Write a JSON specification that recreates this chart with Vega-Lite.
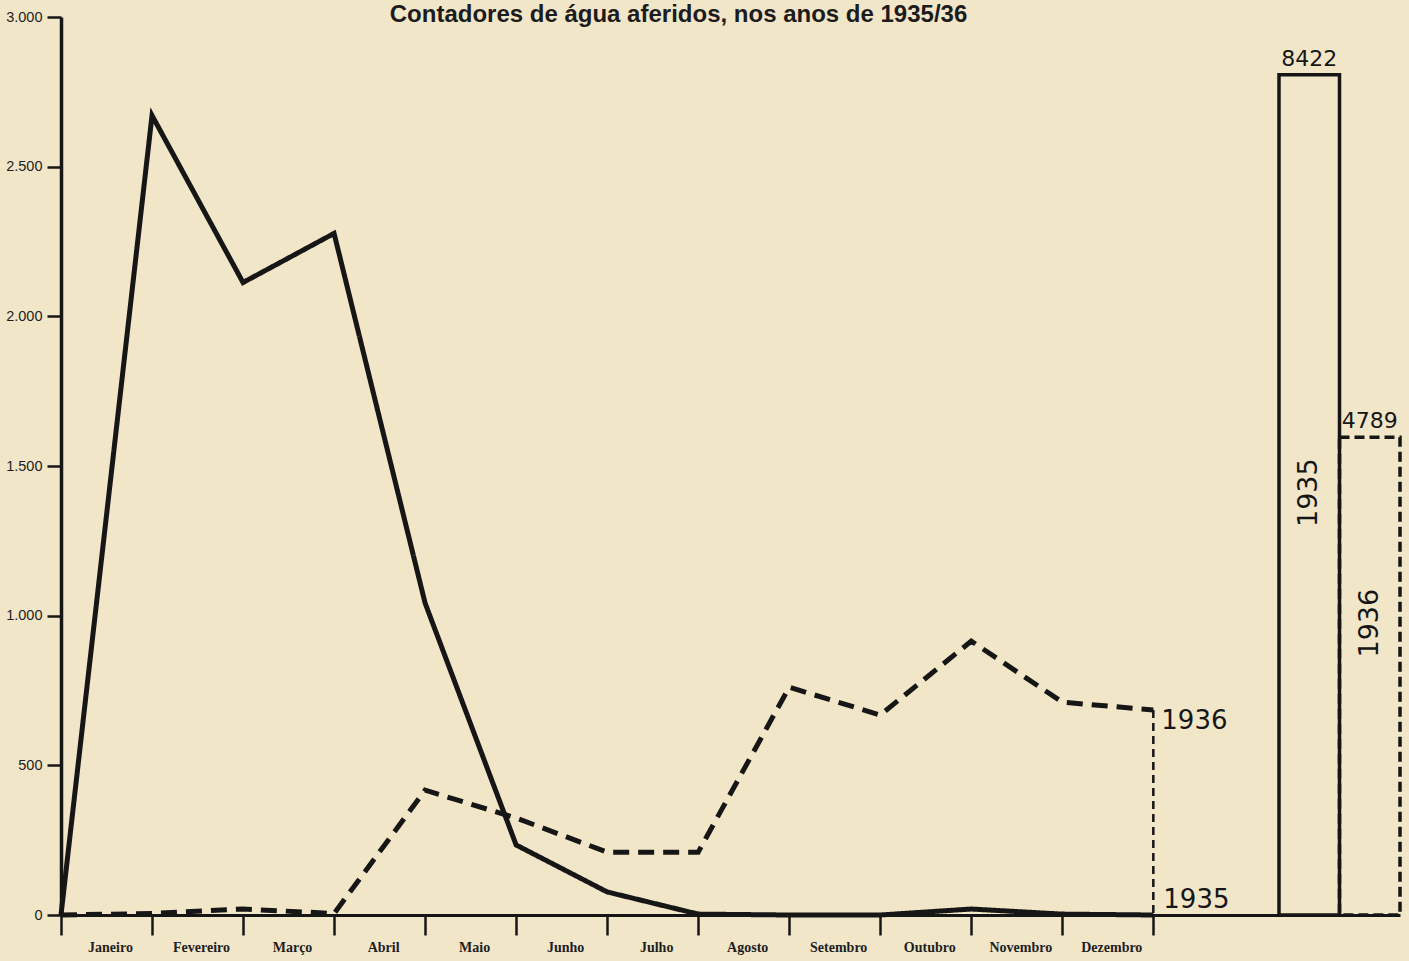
{
  "$schema": "https://vega.github.io/schema/vega-lite/v6.json",
  "width": 1339,
  "height": 898,
  "autosize": {"type": "none"},
  "padding": {"left": 61, "top": 17, "right": 9, "bottom": 46},
  "background": "#f2e6c9",
  "title": {
    "text": "Contadores de água aferidos, nos anos de 1935/36",
    "anchor": "middle",
    "font": "Liberation Sans",
    "fontSize": 24,
    "fontWeight": "bold",
    "color": "#1c1c1c",
    "baseline": "middle",
    "offset": 0,
    "dx": -52,
    "dy": 30
  },
  "config": {
    "view": {"stroke": null},
    "axis": {"grid": false, "domainColor": "#161616", "tickColor": "#161616", "labelColor": "#1e1e1e"}
  },
  "datasets": {
    "mensal": [
      {"m": 0, "mes": "início", "ano": "1935", "n": 0},
      {"m": 1, "mes": "Janeiro", "ano": "1935", "n": 2671},
      {"m": 2, "mes": "Fevereiro", "ano": "1935", "n": 2113},
      {"m": 3, "mes": "Março", "ano": "1935", "n": 2277},
      {"m": 4, "mes": "Abril", "ano": "1935", "n": 1042},
      {"m": 5, "mes": "Maio", "ano": "1935", "n": 234},
      {"m": 6, "mes": "Junho", "ano": "1935", "n": 77},
      {"m": 7, "mes": "Julho", "ano": "1935", "n": 3},
      {"m": 8, "mes": "Agosto", "ano": "1935", "n": 0},
      {"m": 9, "mes": "Setembro", "ano": "1935", "n": 0},
      {"m": 10, "mes": "Outubro", "ano": "1935", "n": 20},
      {"m": 11, "mes": "Novembro", "ano": "1935", "n": 3},
      {"m": 12, "mes": "Dezembro", "ano": "1935", "n": 0},
      {"m": 0, "mes": "início", "ano": "1936", "n": 0},
      {"m": 1, "mes": "Janeiro", "ano": "1936", "n": 5},
      {"m": 2, "mes": "Fevereiro", "ano": "1936", "n": 20},
      {"m": 3, "mes": "Março", "ano": "1936", "n": 5},
      {"m": 4, "mes": "Abril", "ano": "1936", "n": 417},
      {"m": 5, "mes": "Maio", "ano": "1936", "n": 324},
      {"m": 6, "mes": "Junho", "ano": "1936", "n": 210},
      {"m": 7, "mes": "Julho", "ano": "1936", "n": 210},
      {"m": 8, "mes": "Agosto", "ano": "1936", "n": 761},
      {"m": 9, "mes": "Setembro", "ano": "1936", "n": 668},
      {"m": 10, "mes": "Outubro", "ano": "1936", "n": 915},
      {"m": 11, "mes": "Novembro", "ano": "1936", "n": 711},
      {"m": 12, "mes": "Dezembro", "ano": "1936", "n": 685}
    ],
    "totais": [
      {"ano": "1936", "total": 4789},
      {"ano": "1935", "total": 8422}
    ]
  },
  "layer": [
    {
      "data": {"name": "mensal"},
      "encoding": {
        "x": {
          "field": "m",
          "type": "quantitative",
          "scale": {"domain": [0, 14.71], "nice": false, "zero": false},
          "axis": {
            "title": null,
            "values": [0, 1, 2, 3, 4, 5, 6, 7, 8, 9, 10, 11, 12],
            "labelExpr": "['Janeiro','Fevereiro','Março','Abril','Maio','Junho','Julho','Agosto','Setembro','Outubro','Novembro','Dezembro',''][datum.value]",
            "labelOffset": 49,
            "labelOverlap": false,
            "labelBound": false,
            "labelFlush": false,
            "labelFont": "Liberation Serif",
            "labelFontWeight": "bold",
            "labelFontSize": 14,
            "labelPadding": 5,
            "domainWidth": 3,
            "tickSize": 20,
            "tickWidth": 2.5
          }
        },
        "y": {
          "field": "n",
          "type": "quantitative",
          "scale": {"domain": [0, 3000], "nice": false},
          "axis": {
            "title": null,
            "values": [0, 500, 1000, 1500, 2000, 2500, 3000],
            "labelExpr": "replace(format(datum.value, ','), ',', '.')",
            "labelFont": "Liberation Sans",
            "labelFontSize": 14.5,
            "labelPadding": 5,
            "domainWidth": 3.5,
            "tickSize": 14,
            "tickWidth": 2.5
          }
        }
      },
      "layer": [
        {
          "mark": {"type": "line", "strokeWidth": 5, "color": "#161616", "strokeJoin": "miter"},
          "encoding": {
            "detail": {"field": "ano"},
            "strokeDash": {
              "field": "ano",
              "type": "nominal",
              "scale": {"domain": ["1935", "1936"], "range": [[1, 0], [16, 9]]},
              "legend": null
            }
          }
        },
        {
          "transform": [{"filter": "datum.ano == '1936' && datum.m == 12"}],
          "mark": {"type": "rule", "strokeWidth": 2.5, "color": "#161616", "strokeDash": [8, 5]},
          "encoding": {"y2": {"datum": 0}}
        },
        {
          "transform": [{"filter": "datum.ano == '1936' && datum.m == 12"}],
          "mark": {"type": "text", "align": "left", "baseline": "top", "dx": 8, "dy": -2, "font": "DejaVu Sans", "fontSize": 26, "color": "#161616"},
          "encoding": {"text": {"field": "ano"}}
        },
        {
          "transform": [{"filter": "datum.ano == '1935' && datum.m == 12"}],
          "mark": {"type": "text", "align": "left", "baseline": "bottom", "dx": 10, "dy": -2, "font": "DejaVu Sans", "fontSize": 26, "color": "#161616"},
          "encoding": {"text": {"field": "ano"}}
        }
      ]
    },
    {
      "data": {"name": "totais"},
      "encoding": {
        "x": {
          "field": "ano",
          "type": "nominal",
          "scale": {"domain": ["1935", "1936"], "range": [1218, 1339], "paddingInner": 0, "paddingOuter": 0},
          "axis": null
        },
        "y": {
          "field": "total",
          "type": "quantitative",
          "scale": {"domain": [0, 9000], "nice": false},
          "axis": null
        }
      },
      "layer": [
        {
          "mark": {"type": "bar", "fill": "transparent", "stroke": "#161616", "strokeWidth": 3.5},
          "encoding": {
            "strokeDash": {
              "field": "ano",
              "type": "nominal",
              "scale": {"domain": ["1935", "1936"], "range": [[1, 0], [10, 5]]},
              "legend": null
            }
          }
        },
        {
          "mark": {"type": "text", "baseline": "bottom", "dy": -4, "font": "DejaVu Sans", "fontSize": 22, "color": "#161616"},
          "encoding": {"text": {"field": "total"}}
        },
        {
          "transform": [{"filter": "datum.ano == '1935'"}],
          "mark": {"type": "text", "angle": 270, "align": "center", "baseline": "middle", "dx": -418, "font": "DejaVu Sans", "fontSize": 27, "color": "#161616"},
          "encoding": {"text": {"field": "ano"}}
        },
        {
          "transform": [{"filter": "datum.ano == '1936'"}],
          "mark": {"type": "text", "angle": 270, "align": "center", "baseline": "middle", "dx": -186, "font": "DejaVu Sans", "fontSize": 27, "color": "#161616"},
          "encoding": {"text": {"field": "ano"}}
        }
      ]
    }
  ],
  "resolve": {"scale": {"x": "independent", "y": "independent", "strokeDash": "independent"}}
}
